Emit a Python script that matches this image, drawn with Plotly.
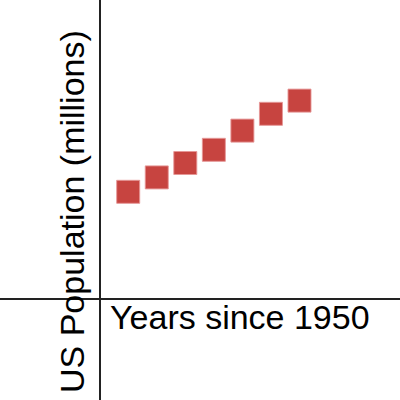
import plotly.graph_objects as go

years_since_1950 = [10, 20, 30, 40, 50, 60, 70]
population_millions = [179, 203, 227, 249, 281, 309, 331]

x_title = "Years since 1950"
y_title = "US Population (millions)"

fig = go.Figure()
fig.add_trace(go.Scatter(
    x=years_since_1950, y=population_millions, mode="markers",
    marker=dict(symbol="square", size=23, color="#c74440",
                line=dict(color="rgba(230,150,150,0.9)", width=1)),
    hoverinfo="skip", showlegend=False,
))

axis_common = dict(showgrid=False, showticklabels=False, ticks="", showline=False,
                   zeroline=True, zerolinecolor="#222222", zerolinewidth=2.4, fixedrange=True)

fig.update_layout(
    width=400, height=400,
    margin=dict(l=0, r=0, t=0, b=0),
    paper_bgcolor="white", plot_bgcolor="white",
    xaxis=dict(range=[-34.9, 105.2], **axis_common),
    yaxis=dict(range=[-168.0, 498.7], **axis_common),
    font=dict(family="Liberation Sans, Arial, sans-serif", color="#000000"),
    annotations=[
        dict(text=x_title, xref="paper", yref="paper", x=108/400, y=1-317/400,
             xanchor="left", yanchor="middle", showarrow=False, font=dict(size=34)),
        dict(text=y_title, xref="paper", yref="paper", x=72/400, y=1-212/400,
             xanchor="center", yanchor="middle", textangle=-90, showarrow=False,
             font=dict(size=34)),
    ],
)

fig.write_html("out.html", config={"displayModeBar": False},
               post_script="document.body.style.margin='0';document.body.style.overflow='hidden';")
